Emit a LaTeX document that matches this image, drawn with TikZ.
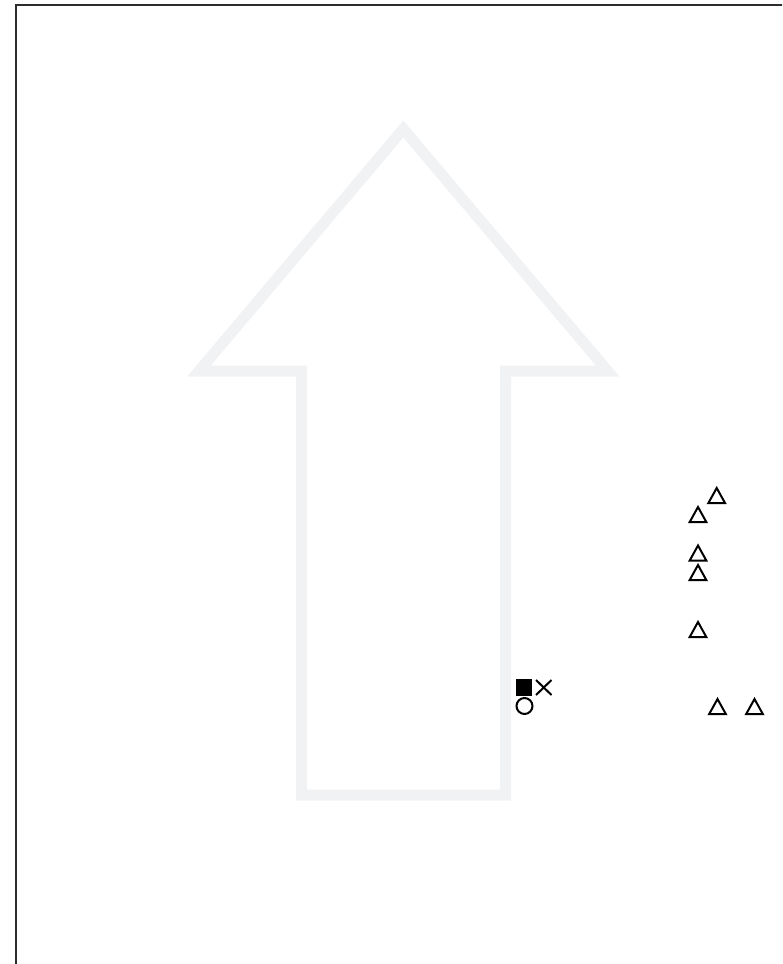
\documentclass[tikz,border=0pt]{standalone}
\usepackage{tikz}

\definecolor{arrowgray}{RGB}{241,242,244}
\definecolor{framegray}{RGB}{45,45,45}

\tikzset{
  bigarrow/.style={draw=arrowgray, line width=8.25pt, line join=miter},
  frameline/.style={draw=framegray, line width=1.6pt},
  marker/.style={draw=black, line width=1.5pt, line join=miter}
}

\begin{document}
\begin{tikzpicture}[x=0.75pt, y=-0.75pt]

  % ================================================================
  % Page (pixel grid, y downwards)
  % ================================================================

  \useasboundingbox (0, 0) rectangle (782, 964);
  \clip (0, 0) rectangle (782, 964);

  % --- frame, running off the right and bottom edges ---
  \draw[frameline] (15.6, 1000) -- (15.6, 5.4) -- (800, 5.4);

  % ================================================================
  % Big hollow arrow (pale gray outline)
  % ================================================================

  \draw[bigarrow]
    (301.5, 795) -- (301.5, 371) -- (199, 371) -- (403.3, 129)
    -- (607.6, 371) -- (505.7, 371) -- (505.7, 795) -- cycle;

  % ================================================================
  % Markers
  % ================================================================

  % --- filled square, cross and circle ---
  \fill[black] (516, 679) rectangle (532.3, 695.7);
  \draw[marker] (536, 680) -- (551.5, 695)
                (536, 695) -- (551.5, 680);
  \draw[marker] (524.5, 706) circle[radius=8];

  % --- open triangles ---
  \foreach \tx/\ty in {716.7/495, 698/514, 698/552.5, 698/572,
                       698/629, 717.5/706, 754.5/706}
    \draw[marker] (\tx, \ty-7) -- (\tx+8.3, \ty+8)
                  -- (\tx-8.3, \ty+8) -- cycle;

\end{tikzpicture}
\end{document}
